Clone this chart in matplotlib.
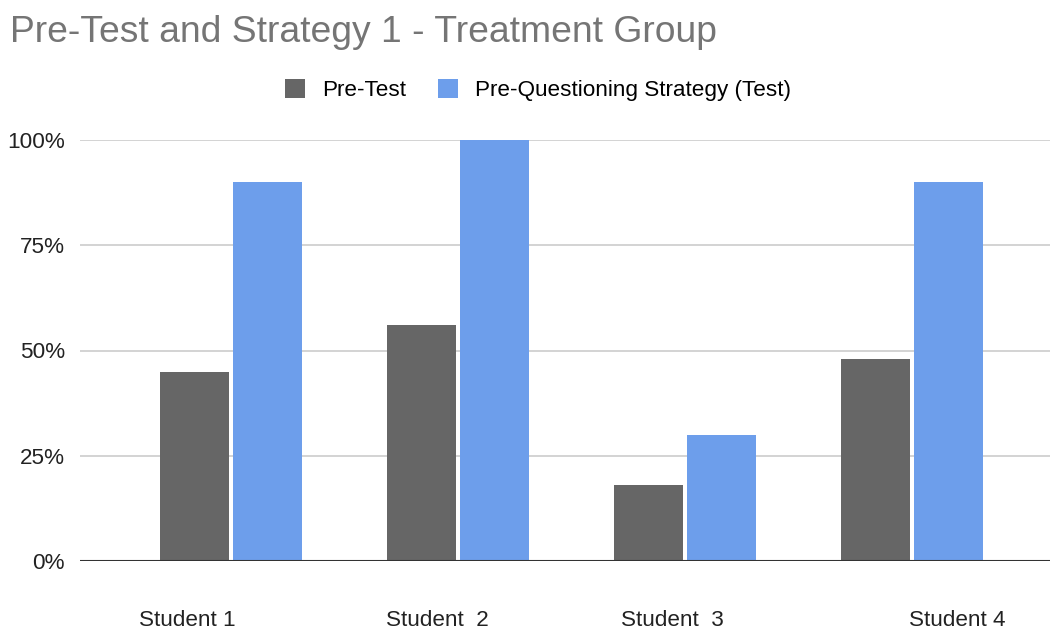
import numpy as np
import matplotlib
matplotlib.use("Agg")
import matplotlib.pyplot as plt
import matplotlib.transforms as mtransforms
from matplotlib.ticker import PercentFormatter

# Данные
students = ["Student 1", "Student  2", "Student  3", "Student 4"]
pre_test = [0.45, 0.56, 0.18, 0.48]
strategy_test = [0.90, 1.00, 0.30, 0.90]
series_names = ["Pre-Test", "Pre-Questioning Strategy (Test)"]
colors = ["#666666", "#6d9eeb"]

plt.rcParams["font.family"] = ["Liberation Sans", "DejaVu Sans"]

fig = plt.figure(figsize=(10.5, 6.31), dpi=100)
ax = fig.add_axes([80 / 1050, 70 / 631, 970 / 1050, 421 / 631])

x = np.arange(len(students))
w = 0.304
gap = 0.009
ax.bar(x - w / 2 - gap, pre_test, w, color=colors[0], label=series_names[0], zorder=3)
ax.bar(x + w / 2 + gap, strategy_test, w, color=colors[1], label=series_names[1], zorder=3)

ax.set_ylim(0, 1.0)
ax.set_xlim(-0.665, 3.608)
ax.set_yticks([0, 0.25, 0.5, 0.75, 1.0])
ax.yaxis.set_major_formatter(PercentFormatter(1.0, decimals=0))
ax.grid(axis="y", color="#cccccc", linewidth=1.2, zorder=0)
ax.axhline(0, color="#333333", linewidth=1.5, zorder=4)
for s in ax.spines.values():
    s.set_visible(False)
ax.tick_params(axis="both", length=0, labelsize=16.2, colors="#222222")
ax.tick_params(axis="y", pad=11)
ax.tick_params(axis="x", pad=35)
ax.set_xticks(x)
ax.set_xticklabels(students)

# подписи в оригинале немного сдвинуты
shifts = [-44, -21, -13, 45]
for lbl, dx in zip(ax.get_xticklabels(), shifts):
    off = mtransforms.ScaledTranslation(dx / 100, 0, fig.dpi_scale_trans)
    lbl.set_transform(lbl.get_transform() + off)

fig.text(10 / 1050, 1 - 33 / 631, "Pre-Test and Strategy 1 - Treatment Group",
         fontsize=26.8, color="#757575", ha="left", va="center")

fig.legend(loc="center", bbox_to_anchor=(538 / 1050, 1 - 90 / 631), ncol=2,
           frameon=False, fontsize=16.2, handlelength=0.9, handleheight=0.9,
           handletextpad=0.75, columnspacing=1.4)

plt.savefig("out.png", dpi=100)
